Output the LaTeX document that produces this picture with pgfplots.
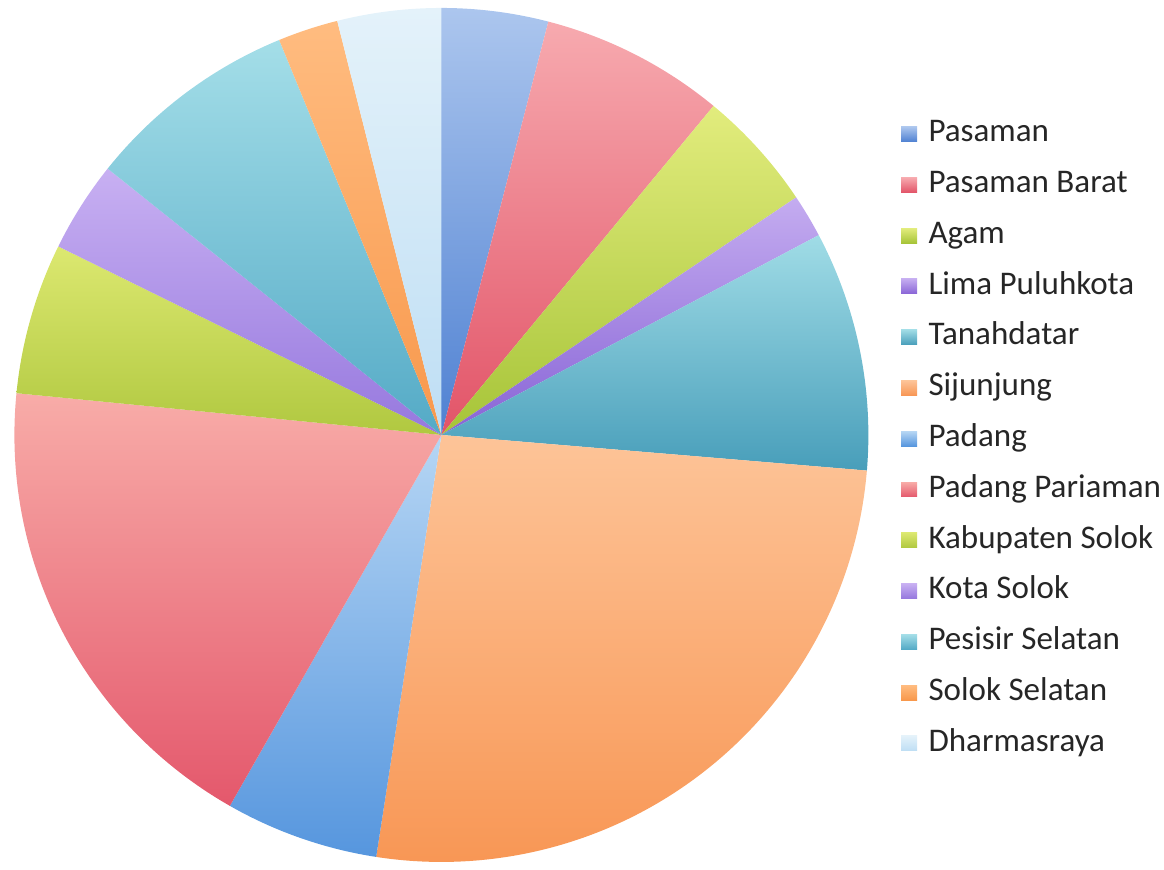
\documentclass[border=0pt]{standalone}
\usepackage{fontspec}
\setmainfont{Carlito}
\usepackage{pgfplots}
\usepackage{pgfplotstable}
\pgfplotsset{compat=1.18}

% share of each region, percent, clockwise from 12 o'clock
\pgfplotstableread[col sep=comma]{
name,value
Pasaman,4.03
Pasaman Barat,6.97
Agam,4.61
Lima Puluhkota,1.64
Tanahdatar,9.08
Sijunjung,26.11
Padang,5.81
Padang Pariaman,18.31
Kabupaten Solok,5.72
Kota Solok,3.44
Pesisir Selatan,8.08
Solok Selatan,2.28
Dharmasraya,3.92
}\piedata

% slice shading: light at the top, darker at the bottom
\tikzset{
  sl0/.style={top color={rgb,255:red,172;green,198;blue,238}, bottom color={rgb,255:red,79;green,129;blue,210}},
  sl1/.style={top color={rgb,255:red,247;green,170;blue,175}, bottom color={rgb,255:red,226;green,84;blue,104}},
  sl2/.style={top color={rgb,255:red,226;green,236;blue,125}, bottom color={rgb,255:red,166;green,196;blue,56}},
  sl3/.style={top color={rgb,255:red,196;green,172;blue,240}, bottom color={rgb,255:red,136;green,100;blue,214}},
  sl4/.style={top color={rgb,255:red,160;green,220;blue,230}, bottom color={rgb,255:red,72;green,158;blue,186}},
  sl5/.style={top color={rgb,255:red,253;green,196;blue,152}, bottom color={rgb,255:red,248;green,150;blue,84}},
  sl6/.style={top color={rgb,255:red,182;green,214;blue,244}, bottom color={rgb,255:red,86;green,150;blue,222}},
  sl7/.style={top color={rgb,255:red,248;green,172;blue,168}, bottom color={rgb,255:red,228;green,88;blue,108}},
  sl8/.style={top color={rgb,255:red,220;green,232;blue,112}, bottom color={rgb,255:red,176;green,200;blue,64}},
  sl9/.style={top color={rgb,255:red,200;green,176;blue,242}, bottom color={rgb,255:red,150;green,120;blue,222}},
  sl10/.style={top color={rgb,255:red,164;green,222;blue,232}, bottom color={rgb,255:red,84;green,170;blue,198}},
  sl11/.style={top color={rgb,255:red,255;green,188;blue,128}, bottom color={rgb,255:red,248;green,152;blue,76}},
  sl12/.style={top color={rgb,255:red,228;green,242;blue,250}, bottom color={rgb,255:red,190;green,222;blue,244}},
}

% cumulative angles (tikz convention: counter-clockwise from east)
\pgfplotstablegetrowsof{\piedata}%
\pgfmathtruncatemacro{\lastrow}{\pgfplotsretval-1}%
\def\total{0}%
\pgfplotsforeachungrouped \i in {0,...,\lastrow}{%
  \pgfplotstablegetelem{\i}{value}\of\piedata
  \pgfmathsetmacro{\total}{\total+\pgfplotsretval}%
}%
\def\acc{0}%
\pgfplotsforeachungrouped \i in {0,...,\lastrow}{%
  \pgfplotstablegetelem{\i}{value}\of\piedata
  \pgfmathsetmacro{\sa}{90-360*(\acc/\total)}%
  \pgfmathsetmacro{\acc}{\acc+\pgfplotsretval}%
  \pgfmathsetmacro{\sb}{90-360*(\acc/\total)}%
  \expandafter\xdef\csname sliceA\i\endcsname{\sa}%
  \expandafter\xdef\csname sliceB\i\endcsname{\sb}%
  \pgfplotstablegetelem{\i}{name}\of\piedata
  \expandafter\xdef\csname sliceN\i\endcsname{\pgfplotsretval}%
}%

\begin{document}
\begin{tikzpicture}
\begin{axis}[
  hide axis,
  scale only axis,
  x=0.5pt, y=0.5pt,
  xmin=0, xmax=1164,
  ymin=0, ymax=868,
  clip=false,
  legend image code/.code={%
    \path[#1, draw=none] (0pt,-4pt) rectangle (8pt,3.5pt);
    \path (13.5pt,0pt);},
  legend cell align=left,
  legend style={
    at={(axis cs:900,748)}, anchor=north west,
    draw=none, fill=none, inner sep=0pt, outer sep=0pt,
    row sep=11.2pt,
    nodes={inner sep=0pt, text height=11.3pt, text depth=3pt, text=black!85},
    font=\fontsize{16.6}{16.6}\selectfont,
  },
]
\path (axis cs:0,0) rectangle (axis cs:1164,868);
\pgfplotsinvokeforeach{0,...,12}{
  \path[sl#1] (axis cs:438,431)
    -- ++(canvas polar cs:angle=\csname sliceA#1\endcsname, radius=214.5pt)
    arc[start angle=\csname sliceA#1\endcsname, end angle=\csname sliceB#1\endcsname, radius=214.5pt]
    -- cycle;
  \addlegendimage{sl#1}
  \addlegendentry{\csname sliceN#1\endcsname}
}
\end{axis}
\end{tikzpicture}
\end{document}
